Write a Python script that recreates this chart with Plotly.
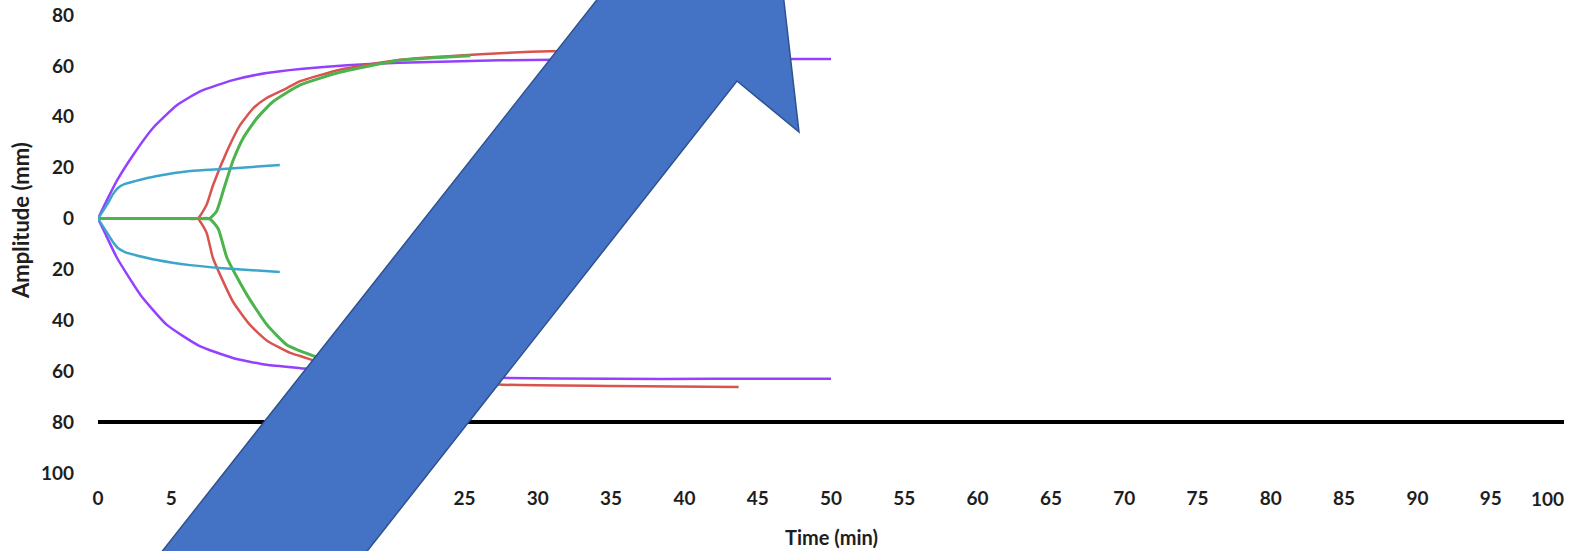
import plotly.graph_objects as go

# ---- time axis (min) and amplitude (mm) samples for each trace ----
purple_up_t = [0, 0.5, 1.3, 2.4, 3.75, 5.4, 7.0, 9.2, 11.5, 13.8, 17.0, 20.6, 27.4, 35, 42, 50]
purple_up_a = [0, 6, 15, 25, 35.6, 44.6, 50.1, 54.4, 57.2, 58.8, 60.3, 61.2, 62.2, 62.6, 62.7, 62.7]

purple_dn_t = [0, 0.5, 1.3, 2.9, 4.7, 6.9, 9.2, 11.5, 13.8, 17.0, 20.6, 27.4, 35, 42, 50]
purple_dn_a = [0, -6, -15.5, -30, -41.8, -50, -54.8, -57.5, -58.8, -60.5, -61.6, -62.6, -63, -63, -63]

cyan_up_t = [0, 0.68, 1.02, 1.36, 1.84, 2.52, 4.02, 6.28, 8.53, 12.4]
cyan_up_a = [0, 6.1, 9.6, 12, 13.6, 14.7, 16.7, 18.7, 19.5, 21]

cyan_dn_t = [0, 0.68, 1.02, 1.36, 1.84, 2.52, 4.02, 6.28, 8.53, 12.4]
cyan_dn_a = [0, -6.1, -9.2, -11.6, -13.2, -14.3, -16.3, -18.3, -19.5, -21]

red_up_t = [0, 2, 4, 6, 6.8, 7.4, 7.84, 8.8, 9.7, 10.6, 11.5, 12.9, 13.8, 16.5, 20.6, 27.4, 30.8, 43.7]
red_up_a = [0, 0, 0, 0, 0, 5.3, 13, 26.5, 36.8, 43.4, 47.4, 51.3, 54, 58.5, 62.4, 65, 65.8, 66.2]

red_dn_t = [0, 2, 4, 6, 6.8, 7.4, 7.84, 9.2, 10.37, 11.53, 13.1, 13.78, 16.5, 20.6, 27.6, 35, 43.7]
red_dn_a = [0, 0, 0, 0, 0, -5.5, -15.5, -32.6, -41.8, -48, -52.8, -54, -59, -62.5, -65.3, -65.8, -66.2]

green_up_t = [0, 2, 4, 6, 7.0, 7.6, 8.1, 8.6, 9.2, 9.9, 10.85, 11.95, 13.8, 16.5, 20.6, 25.4]
green_up_a = [0, 0, 0, 0, 0, 0, 3, 12, 22.6, 31.6, 39.5, 46, 52.5, 57.5, 62.2, 64]

green_dn_t = [0, 2, 4, 6, 7.0, 7.6, 8.2, 8.8, 10.16, 11.53, 12.89, 13.78, 16.5, 20.6, 25.4]
green_dn_a = [0, 0, 0, 0, 0, 0, -4, -15.5, -30, -41.8, -49.7, -52, -57.5, -61.5, -63.5]

baseline_t = [0, 100]
baseline_a = [-80, -80]

x_ticks = list(range(0, 100, 5))
y_ticks = list(range(-100, 81, 20))
y_tick_text = [str(abs(v)) for v in y_ticks]

PURPLE = "#9340FF"
RED = "#D9534F"
GREEN = "#4DB34D"
CYAN = "#3DA5CC"

FONT = "Lato, Liberation Sans Narrow, Liberation Sans, sans-serif"
TXT = "#1e1e1e"

W, H = 1570, 551
ML, MR, MT, MB = 98, 6, 15, 78

fig = go.Figure()


def add_line(t, a, color, width=2.5):
    fig.add_trace(go.Scatter(
        x=t, y=a, mode="lines",
        line=dict(color=color, width=width, shape="spline", smoothing=0.5),
        hoverinfo="skip", showlegend=False,
    ))


add_line(purple_up_t, purple_up_a, PURPLE)
add_line(purple_dn_t, purple_dn_a, PURPLE)
add_line(red_up_t, red_up_a, RED)
add_line(red_dn_t, red_dn_a, RED)
add_line(green_up_t, green_up_a, GREEN, 3)
add_line(green_dn_t, green_dn_a, GREEN, 3)
add_line(cyan_up_t, cyan_up_a, CYAN)
add_line(cyan_dn_t, cyan_dn_a, CYAN)

# heavy reference line at -80 mm
fig.add_trace(go.Scatter(
    x=baseline_t, y=baseline_a, mode="lines",
    line=dict(color="black", width=4), hoverinfo="skip", showlegend=False,
))

# large block arrow overlay, outline given in page pixels
plot_w = W - ML - MR
plot_h = H - MT - MB


def to_paper(px, py):
    return (px - ML) / plot_w, (H - MB - py) / plot_h


arrow_px = [(108, 620), (611, -18), (548, -68), (773, -94),
            (799, 132), (737, 81), (313, 620)]
pts = [to_paper(px, py) for px, py in arrow_px]
path = "M " + " L ".join(f"{x:.5f},{y:.5f}" for x, y in pts) + " Z"
fig.add_shape(
    type="path", path=path, xref="paper", yref="paper",
    fillcolor="#4472C4", line=dict(color="#2F528F", width=1.5), layer="above",
)

# axis titles
fig.add_annotation(
    text="Time (min)", x=(831 - ML) / plot_w, y=(H - MB - 537) / plot_h,
    xref="paper", yref="paper", showarrow=False,
    font=dict(family=FONT, size=20, color=TXT, weight="bold"),
    xanchor="center", yanchor="middle",
)
fig.add_annotation(
    text="Amplitude (mm)", x=(20 - ML) / plot_w, y=(H - MB - 221) / plot_h,
    xref="paper", yref="paper", showarrow=False, textangle=-90,
    font=dict(family=FONT, size=22, color=TXT, weight="bold"),
    xanchor="center", yanchor="middle",
)
# last time label sits flush with the right edge
fig.add_annotation(
    text="100", x=(1566 - ML) / plot_w, y=(H - MB - 498) / plot_h,
    xref="paper", yref="paper", showarrow=False,
    font=dict(family=FONT, size=19, color=TXT, weight="bold"),
    xanchor="right", yanchor="middle",
)

tick_font = dict(family=FONT, size=19, color=TXT, weight="bold")
fig.update_layout(
    width=W, height=H,
    margin=dict(l=ML, r=MR, t=MT, b=MB, pad=0),
    paper_bgcolor="white", plot_bgcolor="white",
    showlegend=False,
    font=dict(family=FONT, size=19, color=TXT),
    xaxis=dict(
        range=[0, 100], tickvals=x_ticks, showgrid=False, zeroline=False,
        showline=False, ticks="", ticklabelstandoff=12, automargin=False,
        tickfont=tick_font,
    ),
    yaxis=dict(
        range=[-100, 80], tickvals=y_ticks, ticktext=y_tick_text,
        showgrid=False, zeroline=False, showline=False, ticks="",
        ticklabelstandoff=23, automargin=False,
        tickfont=tick_font,
    ),
)

fig.write_html("out.html")
